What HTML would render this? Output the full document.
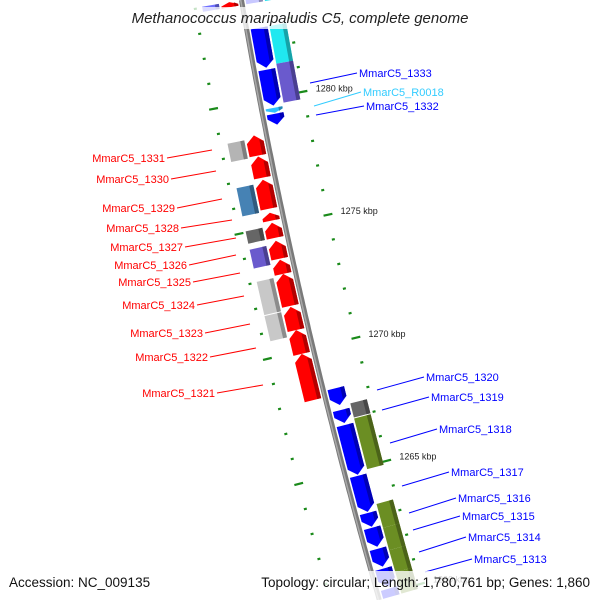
<!DOCTYPE html>
<html><head><meta charset="utf-8"><style>
html,body{margin:0;padding:0;background:#fff;width:600px;height:600px;overflow:hidden;}
svg{display:block;font-family:"Liberation Sans","DejaVu Sans",sans-serif;overflow:hidden;}
</style></head><body>
<svg id="map" width="600" height="600" viewBox="0 0 600 600" xmlns="http://www.w3.org/2000/svg">
<g id="ticks"></g>
<path id="backbone" fill="none" stroke="#7a7a7a" stroke-width="5"/>
<path id="backbone2" fill="none" stroke="#a8a8a8" stroke-width="1.5"/>
<g id="genes"></g>
<g id="labels"></g>
<rect x="115" y="7" width="370" height="22" fill="#fff" fill-opacity="0.75"/>
<text x="300" y="23" text-anchor="middle" font-size="15" font-style="italic" fill="#222">Methanococcus maripaludis C5, complete genome</text>
<rect x="0" y="571" width="600" height="29" fill="#fff" fill-opacity="0.8"/>
<text x="9" y="587" font-size="13.5" fill="#111">Accession: NC_009135</text>
<text x="590" y="587" font-size="13.5" text-anchor="end" fill="#111">Topology: circular; Length: 1,780,761 bp; Genes: 1,860</text>
</svg>
<script>
// data
const geneStart = [1284.23,1284.23,1284.23,1284.23,1282.82,1281.13,1279.59,1279.35,1282.82,1281.29,1278.55,1278.67,1277.82,1276.77,1276.89,1275.56,1275.04,1275.16,1274.31,1274.43,1273.67,1273.02,1271.65,1273.10,1271.77,1270.84,1269.88,1268.26,1267.38,1267.54,1266.77,1266.93,1264.72,1263.22,1262.62,1261.77,1260.97,1260.16,1263.47,1262.50,1261.60,1260.70];
const geneEnd   = [1283.83,1283.83,1283.83,1283.83,1281.21,1279.68,1279.39,1278.91,1281.29,1279.72,1277.82,1277.86,1276.97,1275.64,1275.72,1275.24,1274.55,1274.55,1273.55,1273.71,1273.10,1271.69,1270.64,1271.81,1270.84,1269.88,1268.02,1267.58,1266.85,1266.97,1264.76,1264.88,1263.26,1262.66,1261.85,1261.05,1260.24,1259.84,1262.50,1261.60,1260.70,1259.84];
const geneTrack = ['L2','L1','R1','R2','R1','R1','R1','R1','R2','R2','L2','L1','L1','L2','L1','L1','L2','L1','L2','L1','L1','L2','L2','L1','L1','L1','L1','R1','R1','R2','R1','R2','R1','R1','R1','R1','R1','R1','R2','R2','R2','R2'];
const geneColor = ['#7070ff','#ff0000','#c8c8ff','#30e0f0','#0000ff','#0000ff','#30c0ff','#0000ff','#20e8f0','#6a5acd','#b4b4b4','#ff0000','#ff0000','#4682b4','#ff0000','#ff0000','#666666','#ff0000','#6a5acd','#ff0000','#ff0000','#c8c8c8','#c8c8c8','#ff0000','#ff0000','#ff0000','#ff0000','#0000ff','#0000ff','#666666','#0000ff','#6b8e23','#0000ff','#0000ff','#0000ff','#0000ff','#0000ff','#0000ff','#6b8e23','#6b8e23','#6b8e23','#6b8e23'];
const geneArrow = [0,1,0,0,1,1,1,1,0,0,0,1,1,0,1,1,0,1,0,1,1,0,0,1,1,1,1,1,1,0,1,0,1,1,1,1,1,0,0,0,0,0];
const tickKbp = [1260,1261,1262,1263,1264,1265,1266,1267,1268,1269,1270,1271,1272,1273,1274,1275,1276,1277,1278,1279,1280,1281,1282,1283,1284];
const labelNames = ['MmarC5_1331','MmarC5_1330','MmarC5_1329','MmarC5_1328','MmarC5_1327','MmarC5_1326','MmarC5_1325','MmarC5_1324','MmarC5_1323','MmarC5_1322','MmarC5_1321','MmarC5_1333','MmarC5_R0018','MmarC5_1332','MmarC5_1320','MmarC5_1319','MmarC5_1318','MmarC5_1317','MmarC5_1316','MmarC5_1315','MmarC5_1314','MmarC5_1313'];
const labelColor = ['r','r','r','r','r','r','r','r','r','r','r','b','c','b','b','b','b','b','b','b','b','b'];
// layout (label anchors: text x, text y, line end x, line end y)
const labelLayout = [[165,162,212,150],[169,183,216,171],[175,212,222,199],[179,232,232,220],[183,251,236,238],[187,269,236,255],[191,286,240,273],[195,309,244,296],[203,337,250,324],[208,361,256,348],[215,397,263,385],
[359,77,310,83],[363,96,314,106],[366,110,316,115],[426,381,377,390],[431,401,382,410],[439,433,390,443],[451,476,402,486],[458,502,409,513],[462,520,413,530],[468,541,419,552],[474,563,425,572]];

const NS='http://www.w3.org/2000/svg';
function xf(y){return 241.5+0.1727*y+0.0000950*y*y;}
function dxf(y){return 0.1727+2*0.0000950*y;}
function yOf(k){return 100+(1280-k)*24.8;}
function P(y,v){const d=dxf(y),n=Math.sqrt(1+d*d);return [xf(y)+v/n,y-v*d/n];}
function pts(a){return a.map(p=>p[0].toFixed(1)+','+p[1].toFixed(1)).join(' ');}
const trackV={R1:[4,21],R2:[23,40],L1:[-21,-4],L2:[-40,-23]};

let d='';for(let y=0;y<=600;y+=5){const p=P(y,0);d+=(y===0?'M':'L')+p[0].toFixed(1)+','+p[1].toFixed(1);}
document.getElementById('backbone').setAttribute('d',d);
let d2='';for(let y=0;y<=600;y+=5){const p=P(y,-0.8);d2+=(y===0?'M':'L')+p[0].toFixed(1)+','+p[1].toFixed(1);}
document.getElementById('backbone2').setAttribute('d',d2);

function shade(c){const n=parseInt(c.slice(1),16);let r=n>>16,g=(n>>8)&255,b=n&255;return 'rgb('+Math.round(r*0.7)+','+Math.round(g*0.7)+','+Math.round(b*0.7)+')';}

const tg=document.getElementById('ticks');
tickKbp.forEach(k=>{
  const y=yOf(k),major=k%5===0,len=major?4.5:1.5;
  [[-47,'left'],[44,'right']].forEach(([v,side])=>{
    const a=P(y,v-len),b=P(y,v+len);
    const l=document.createElementNS(NS,'line');
    
    
    l.setAttribute('x1',a[0]);l.setAttribute('y1',a[1]);l.setAttribute('x2',b[0]);l.setAttribute('y2',b[1]);
    l.setAttribute('stroke','#1a8a1a');l.setAttribute('stroke-width','2.2');
    tg.appendChild(l);
    if(major&&side==='right'){
      const q=P(y,v+13);
      const t=document.createElementNS(NS,'text');
      
      
      t.setAttribute('x',q[0]);t.setAttribute('y',q[1]+2);
      t.setAttribute('font-size','9');t.setAttribute('fill','#222');
      t.textContent=k+' kbp';
      tg.appendChild(t);
    }
  });
});

const gg=document.getElementById('genes');
geneStart.forEach((s,i)=>{
  const ya=Math.max(0,yOf(s)),yb=Math.min(600,yOf(geneEnd[i]));
  const [v1,v2]=trackV[geneTrack[i]];const vm=(v1+v2)/2;
  const right=geneTrack[i][0]==='R';
  const h=Math.min(7,(yb-ya)*0.6);
  let poly,strip;
  if(!geneArrow[i]){
    poly=[P(ya,v1),P(ya,v2),P(yb,v2),P(yb,v1)];
    strip=[P(ya,v2-4),P(ya,v2),P(yb,v2),P(yb,v2-4)];
  }else if(right){
    poly=[P(ya,v1),P(ya,v2),P(yb-h,v2),P(yb,vm),P(yb-h,v1)];
    strip=[P(ya,v2-4),P(ya,v2),P(yb-h,v2),P(yb-h+2,v2-4)];
  }else{
    poly=[P(ya+h,v1),P(ya,vm),P(ya+h,v2),P(yb,v2),P(yb,v1)];
    strip=[P(ya+h-2,v2-4),P(ya+h,v2),P(yb,v2),P(yb,v2-4)];
  }
  const g=document.createElementNS(NS,'g');
  
  
  const p=document.createElementNS(NS,'polygon');
  
  
  p.setAttribute('points',pts(poly));p.setAttribute('fill',geneColor[i]);
  g.appendChild(p);
  const q=document.createElementNS(NS,'polygon');
  
  
  q.setAttribute('points',pts(strip));q.setAttribute('fill',shade(geneColor[i]));
  g.appendChild(q);
  gg.appendChild(g);
});

const lg=document.getElementById('labels');
const cmap={r:'#ff0000',b:'#0000ff',c:'#33ccff'};
labelNames.forEach((nm,i)=>{
  const [tx,ty,ex,ey]=labelLayout[i];const left=labelColor[i]==='r';
  const l=document.createElementNS(NS,'line');
  
  
  l.setAttribute('x1',left?tx+2:tx-2);l.setAttribute('y1',ty-4);l.setAttribute('x2',ex);l.setAttribute('y2',ey);
  l.setAttribute('stroke',cmap[labelColor[i]]);l.setAttribute('stroke-width','1');
  lg.appendChild(l);
  const t=document.createElementNS(NS,'text');
  
  
  t.setAttribute('x',tx);t.setAttribute('y',ty);t.setAttribute('font-size','11');
  t.setAttribute('text-anchor',left?'end':'start');t.setAttribute('fill',cmap[labelColor[i]]);
  t.textContent=nm;lg.appendChild(t);
});
</script>
</body></html>
